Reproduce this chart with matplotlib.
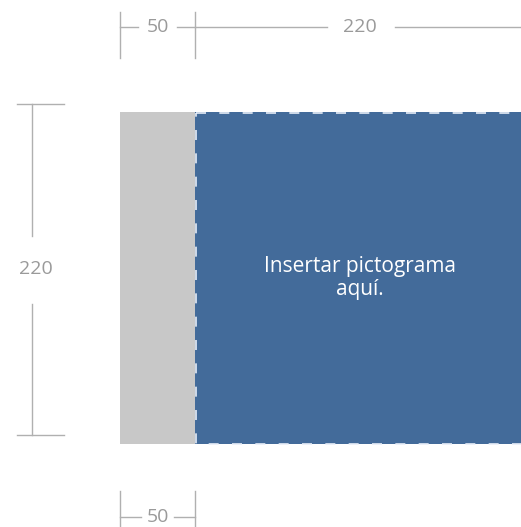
import matplotlib.pyplot as plt

# data: widths of the two blocks and their common height
widths = [50, 220]
height = 220
block_colors = ["#c8c8c8", "#436b9a"]
label = "Insertar pictograma\naquí."

s = 1.51  # pixels per unit
W, H = 521, 527
ox, oy = 120, 112  # pixel origin of the blocks

fig = plt.figure(figsize=(W / 100, H / 100), dpi=100)
ax = fig.add_axes([0, 0, 1, 1])
ax.set_xlim(-ox / s, (W - ox) / s)
ax.set_ylim((H - oy) / s, -oy / s)
ax.axis("off")

lefts = [0, widths[0]]
ax.bar(lefts, [height] * 2, width=widths, bottom=0, align="edge", color=block_colors, linewidth=0)

# dashed border on the blue block
x0, x1 = lefts[1] + 0.4, lefts[1] + widths[1] - 0.4
y0, y1 = 0.4, height - 0.4
ax.plot([x0, x1, x1, x0, x0], [y0, y0, y1, y1, y0], color="#e8eef8", lw=1.2, dashes=(6, 8))

ax.text(lefts[1] + widths[1] / 2 - 1, height / 2, label, color="white", ha="center", va="center",
        fontsize=15, family="Open Sans", linespacing=1.15)

lc = "#b0b0b0"
tc = "#9a9a9a"
fs = 14

# top dimension line
yt = -56
ax.plot([0, 0], [-66, -36], color=lc, lw=1)
ax.plot([widths[0], widths[0]], [-66, -36], color=lc, lw=1)
ax.plot([0, 12], [yt, yt], color=lc, lw=1)
ax.plot([38, widths[0]], [yt, yt], color=lc, lw=1)
ax.text(widths[0] / 2, yt, str(widths[0]), color=tc, ha="center", va="center", fontsize=fs, family="Open Sans")
ax.plot([widths[0], 137], [yt, yt], color=lc, lw=1)
ax.plot([182, 265], [yt, yt], color=lc, lw=1)
ax.text(159, yt, str(widths[1]), color=tc, ha="center", va="center", fontsize=fs, family="Open Sans")

# left dimension line
xl = -58
ax.plot([-68, -37], [-5, -5], color=lc, lw=1)
ax.plot([-68, -37], [214, 214], color=lc, lw=1)
ax.plot([xl, xl], [-5, 82], color=lc, lw=1)
ax.plot([xl, xl], [127, 214], color=lc, lw=1)
ax.text(xl + 2.5, 104, str(height), color=tc, ha="center", va="center", fontsize=fs, family="Open Sans")

# bottom dimension line
yb = 268
ax.plot([0, 0], [251, 275], color=lc, lw=1)
ax.plot([widths[0], widths[0]], [251, 275], color=lc, lw=1)
ax.plot([0, 14], [yb, yb], color=lc, lw=1)
ax.plot([36, widths[0]], [yb, yb], color=lc, lw=1)
ax.text(widths[0] / 2, yb, str(widths[0]), color=tc, ha="center", va="center", fontsize=fs, family="Open Sans")

fig.savefig("out.png", dpi=100)
